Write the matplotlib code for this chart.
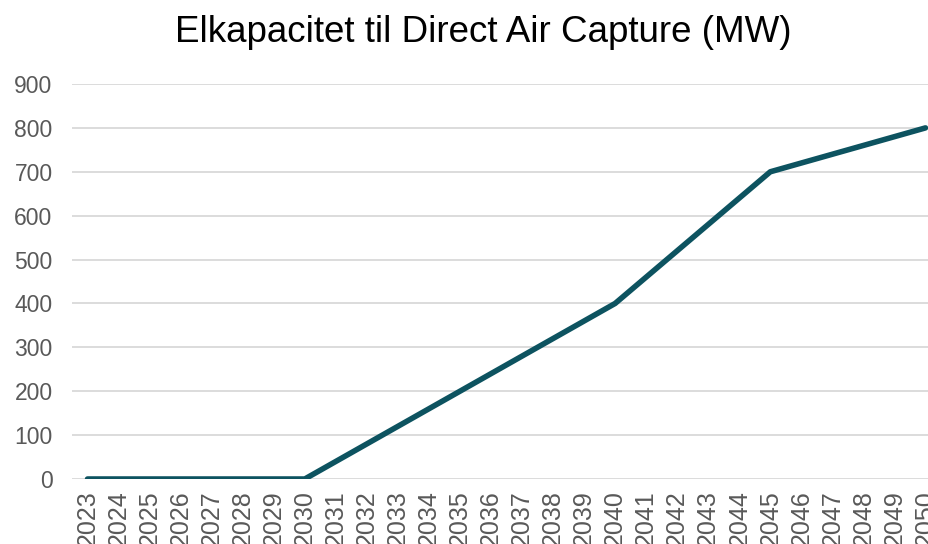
import numpy as np
import matplotlib.pyplot as plt

plt.rcParams['font.family'] = ['Liberation Sans', 'DejaVu Sans']

years = list(range(2023, 2051))
capacity = [0, 0, 0, 0, 0, 0, 0, 0,
            40, 80, 120, 160, 200, 240, 280, 320, 360, 400,
            460, 520, 580, 640, 700,
            720, 740, 760, 780, 800]

fig = plt.figure(figsize=(9.29, 5.44), dpi=100)
ax = fig.add_axes([72/929, 65/544, (941-72)/929, (479-84)/544])

x = np.arange(len(years))
ax.plot(x, capacity, color='#0D5360', lw=4, solid_capstyle='round', solid_joinstyle='round')

ax.set_xlim(-0.5, len(years) - 0.5)
ax.set_ylim(0, 900)
ax.set_yticks(range(0, 901, 100))
ax.set_xticks(x)
ax.set_xticklabels([str(y) for y in years], rotation=90, fontsize=18, color='#595959')
ax.tick_params(axis='y', labelsize=16.5, labelcolor='#595959', length=0, pad=14)
ax.tick_params(axis='x', length=0, pad=8)
ax.grid(axis='y', color='#D9D9D9', lw=1.3)
ax.set_axisbelow(True)
for s in ax.spines.values():
    s.set_visible(False)

fig.text(483/929, 1 - 33/544, 'Elkapacitet til Direct Air Capture (MW)', ha='center', va='center', fontsize=26.5, color='#000000')

fig.savefig('out.png', dpi=100)
